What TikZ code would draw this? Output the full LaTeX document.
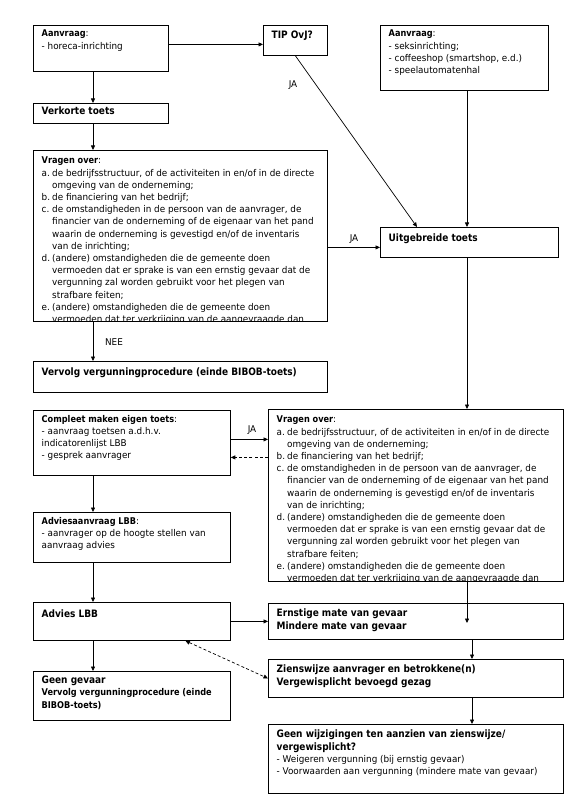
\documentclass[tikz,border=0pt]{standalone}
\usepackage{fontspec}
\setmainfont{DejaVu Sans}[UprightFeatures={FakeStretch=0.95},BoldFeatures={FakeStretch=0.88}]
\usetikzlibrary{positioning,arrows.meta}
\newcommand\bodyfont{\fontsize{9.3}{12.2}\selectfont}
\newcommand\headfont{\fontsize{10.2}{13}\selectfont\bfseries}
\newcommand\lbl[1]{\makebox[10.5pt][l]{#1}}
\newcommand\ind{\hspace*{10.5pt}}
\newcommand\vragentekst{\textbf{Vragen over}:\\
  \lbl{a.}de bedrijfsstructuur, of de activiteiten in en/of in de directe\\
  \ind omgeving van de onderneming;\\
  \lbl{b.}de financiering van het bedrijf;\\
  \lbl{c.}de omstandigheden in de persoon van de aanvrager, de\\
  \ind financier van de onderneming of de eigenaar van het pand\\
  \ind waarin de onderneming is gevestigd en/of de inventaris\\
  \ind van de inrichting;\\
  \lbl{d.}(andere) omstandigheden die de gemeente doen\\
  \ind vermoeden dat er sprake is van een ernstig gevaar dat de\\
  \ind vergunning zal worden gebruikt voor het plegen van\\
  \ind strafbare feiten;\\
  \lbl{e.}(andere) omstandigheden die de gemeente doen\\
  \ind vermoeden dat ter verkrijging van de aangevraagde dan}
\begin{document}
\begin{tikzpicture}[x=1pt,y=-1pt,
    >={Triangle[length=4.5pt,width=4pt]},
    box/.style={draw,line width=0.8pt,inner sep=0pt,anchor=north west},
    txt/.style={inner sep=0pt,align=left,font=\bodyfont},
    kop/.style={txt,font=\headfont},
    arrow/.style={->,line width=0.7pt},
    back/.style={arrow,dash pattern=on 3pt off 2.2pt}]
  \useasboundingbox (0,0) rectangle (582,810);

  % kolommen voor de verticale pijlen
  \coordinate (lc) at (93,0);
  \coordinate (rc) at (467,0);
  \coordinate (rc2) at (472,0);

  % linker kolom
  \node[box,minimum width=135pt,minimum height=46pt] (horeca) at (33,25) {};
  \node[box,minimum width=135pt,minimum height=20pt] (verkorte) at (33,103) {};
  \node[box,minimum width=294pt,minimum height=171pt] (vragenL) at (33,150) {};
  \node[box,minimum width=294pt,minimum height=31pt] (vervolg) at (33,361) {};
  \node[box,minimum width=197pt,minimum height=65pt] (compleet) at (33,410) {};
  \node[box,minimum width=197pt,minimum height=50pt] (advaanv) at (33,512) {};
  \node[box,minimum width=197pt,minimum height=38pt] (advies) at (33,602) {};
  \node[box,minimum width=197pt,minimum height=49pt] (geengev) at (33,671) {};

  % rechter kolom
  \node[box,minimum width=64pt,minimum height=30pt] (tip) at (263,25) {};
  \node[box,minimum width=168pt,minimum height=65pt] (aanvR) at (380,25) {};
  \node[box,minimum width=178pt,minimum height=30pt] (uitg) at (380,227) {};
  \node[box,minimum width=295pt,minimum height=172pt] (vragenR) at (268,409) {};
  \node[box,minimum width=295pt,minimum height=36pt] (ernstig) at (268,603) {};
  \node[box,minimum width=295pt,minimum height=38pt] (ziens) at (268,659) {};
  \node[box,minimum width=295pt,minimum height=69pt] (geenwijz) at (268,724) {};

  % teksten
  \node[txt,below right=5pt and 8.5pt of horeca.north west] (horeca-t)
    {\textbf{Aanvraag}:\\- horeca-inrichting};
  \node[kop,below right=4pt and 8.5pt of verkorte.north west] (verkorte-t) {Verkorte toets};
  \begin{scope}
    \clip (vragenL.north west) rectangle (vragenL.south east);
    \node[txt,below right=7pt and 8.5pt of vragenL.north west] (vragenL-t) {\vragentekst};
  \end{scope}
  \node[kop,below right=7pt and 8.5pt of vervolg.north west] (vervolg-t)
    {Vervolg vergunningprocedure (einde BIBOB-toets)};
  \node[txt,below right=5pt and 8.5pt of compleet.north west] (compleet-t)
    {\textbf{Compleet maken eigen toets}:\\- aanvraag toetsen a.d.h.v.\\indicatorenlijst LBB\\- gesprek aanvrager};
  \node[txt,below right=5pt and 8.5pt of advaanv.north west] (advaanv-t)
    {\textbf{Adviesaanvraag LBB}:\\- aanvrager op de hoogte stellen van\\aanvraag advies};
  \node[kop,below right=8pt and 8.5pt of advies.north west] (advies-t) {Advies LBB};
  \node[txt,below right=5pt and 8.5pt of geengev.north west] (geengev-t)
    {{\headfont Geen gevaar}\\\textbf{Vervolg vergunningprocedure (einde}\\\textbf{BIBOB-toets)}};
  \node[kop,below right=6pt and 8.5pt of tip.north west] (tip-t) {TIP OvJ?};
  \node[txt,below right=5pt and 8.5pt of aanvR.north west] (aanvR-t)
    {\textbf{Aanvraag}:\\- seksinrichting;\\- coffeeshop (smartshop, e.d.)\\- speelautomatenhal};
  \node[kop,below right=7pt and 8.5pt of uitg.north west] (uitg-t) {Uitgebreide toets};
  \begin{scope}
    \clip (vragenR.north west) rectangle (vragenR.south east);
    \node[txt,below right=7pt and 8.5pt of vragenR.north west] (vragenR-t) {\vragentekst};
  \end{scope}
  \node[kop,below right=6pt and 8.5pt of ernstig.north west] (ernstig-t)
    {Ernstige mate van gevaar\\Mindere mate van gevaar};
  \node[kop,below right=6pt and 8.5pt of ziens.north west] (ziens-t)
    {Zienswijze aanvrager en betrokkene(n)\\Vergewisplicht bevoegd gezag};
  \node[txt,below right=6pt and 8.5pt of geenwijz.north west] (geenwijz-t)
    {{\headfont Geen wijzigingen ten aanzien van zienswijze/}\\{\headfont vergewisplicht?}\\- Weigeren vergunning (bij ernstig gevaar)\\- Voorwaarden aan vergunning (mindere mate van gevaar)};

  % pijlen
  \coordinate (tipin) at ([yshift=-4pt]tip.west);
  \coordinate (uitgin) at ([xshift=37pt]uitg.north west);
  \coordinate (ja1) at ([yshift=-5pt]uitg.west);
  \coordinate (ernin) at (467,623);
  \draw[arrow] (horeca.east |- tipin) -- (tipin);
  \draw[arrow] (horeca.south -| lc) -- (verkorte.north -| lc);
  \draw[arrow] (verkorte.south -| lc) -- (vragenL.north -| lc);
  \draw[arrow] (tip.south) -- (uitgin);
  \draw[arrow] (aanvR.south -| rc) -- (uitg.north -| rc);
  \draw[arrow] (vragenL.east |- ja1) -- (ja1);
  \draw[arrow] (vragenL.south -| lc) -- (vervolg.north -| lc);
  \draw[arrow] (uitg.south -| rc) -- (vragenR.north -| rc);
  \draw[arrow] ([yshift=3.5pt]compleet.east) coordinate (c1) -- (c1 -| vragenR.west);
  \draw[back] ([yshift=-14.5pt]compleet.east) coordinate (c2) (vragenR.west |- c2) -- (c2);
  \draw[arrow] (compleet.south -| lc) -- (advaanv.north -| lc);
  \draw[arrow] (advaanv.south -| lc) -- (advies.north -| lc);
  \draw[arrow] (advies.south -| lc) -- (geengev.north -| lc);
  \draw[arrow] (advies.east) -- (advies.east -| ernstig.west);
  \draw[back,<->] ([xshift=53.5pt]advies.south) -- (ziens.west);
  \draw[arrow] (vragenR.south -| rc) -- (ernin);
  \draw[arrow] (ernstig.south -| rc2) -- (ziens.north -| rc2);
  \draw[arrow] (ziens.south -| rc2) -- (geenwijz.north -| rc2);

  % labels bij de pijlen
  \node[txt] (ja-tip) at (293,85) {JA};
  \node[txt] (ja-uitg) at (354,239) {JA};
  \node[txt] (nee) at (114,342) {NEE};
  \node[txt] (ja-compleet) at (252,430) {JA};
\end{tikzpicture}
\end{document}
